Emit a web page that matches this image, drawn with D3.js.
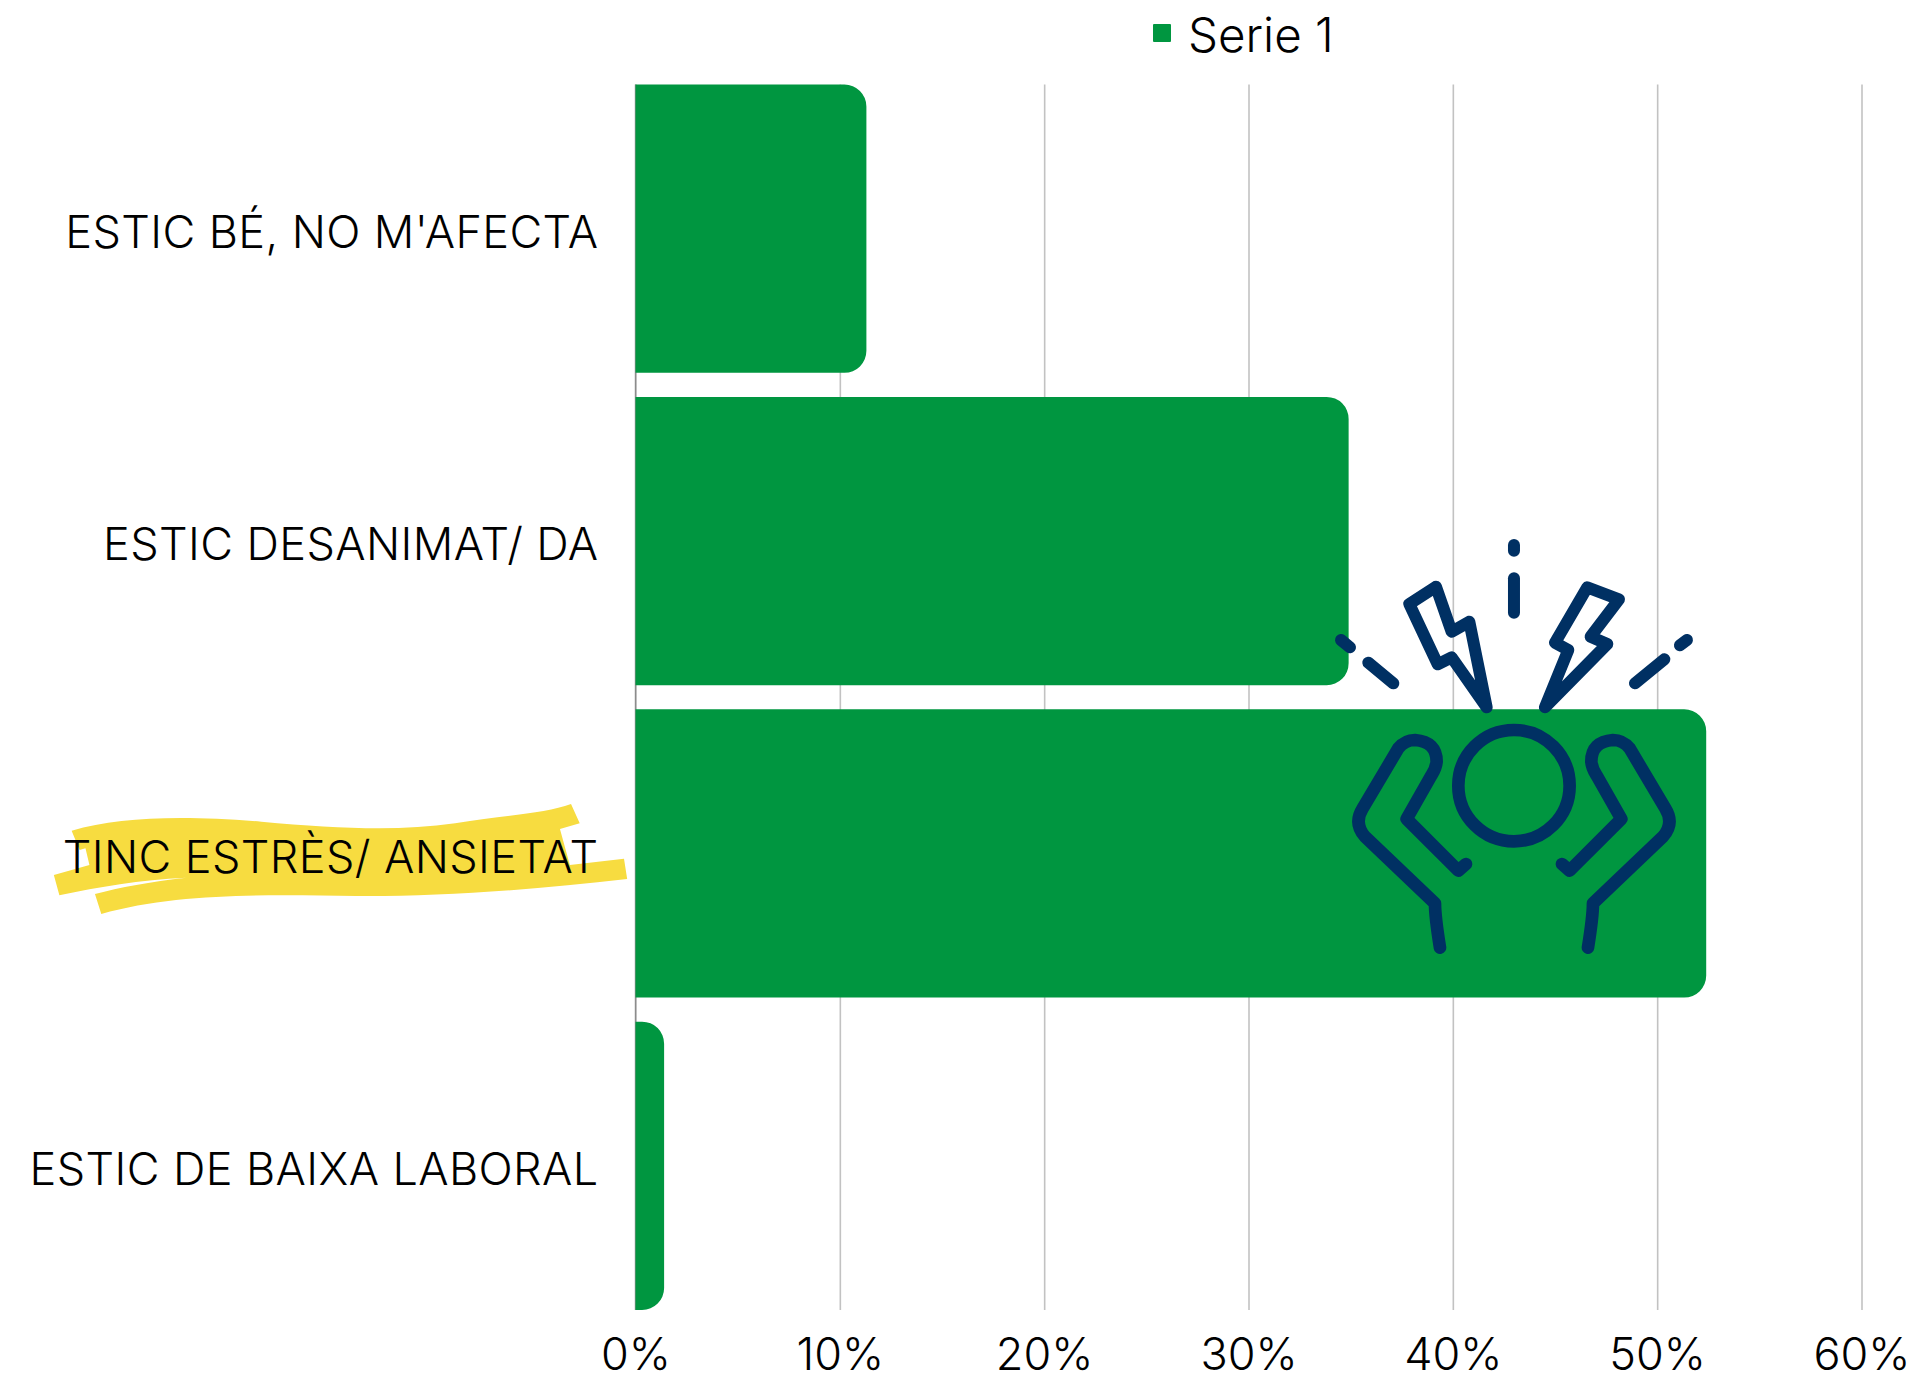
<!DOCTYPE html>
<html lang="ca">
<head>
<meta charset="UTF-8">
<title>Serie 1</title>
<script src="https://d3js.org/d3.v7.min.js"></script>
<style>
    html, body { margin: 0; padding: 0; background: #fff; }
    svg { display: block; }
    text { font-family: Inter, "Open Sans", sans-serif; fill: #000; }
    .axis path { display: none; }
    .grid line { stroke: #c2c2c2; stroke-width: 1.6; }
    .cat text { font-size: 45px; font-weight: 300; letter-spacing: 0.4px; }
    .val text { font-size: 45px; font-weight: 300; }
    .icon * { fill: none; stroke: #003063; stroke-width: 38; stroke-linecap: round; stroke-linejoin: round; }
</style>
</head>
<body>
<svg id="chart" width="1921" height="1381"></svg>
<script>
    // values
    const categories = ["ESTIC BÉ, NO M'AFECTA", "ESTIC DESANIMAT/ DA", "TINC ESTRÈS/ ANSIETAT", "ESTIC DE BAIXA LABORAL"];
    const values = [11.3, 34.9, 52.4, 1.4];
    const xTicks = [0, 10, 20, 30, 40, 50, 60];
    const seriesName = "Serie 1";

    const green = "#009640";
    const svg = d3.select("#chart");
    const margin = { top: 84.5, right: 59.5, bottom: 71, left: 635.5 };
    const width = +svg.attr("width") - margin.left - margin.right;
    const height = +svg.attr("height") - margin.top - margin.bottom;

    const x = d3.scaleLinear().domain([0, 60]).range([0, width]);
    const y = d3.scaleBand().domain(categories).range([0, height]).paddingInner(0.077).paddingOuter(0);

    // yellow marker stroke behind the third label
    svg.append("path")
        .attr("transform", "translate(40,780) scale(0.3954,0.3333)")
        .attr("fill", "#f7dc40")
        .attr("d", "M80 152C200 112 350 105 560 125C750 145 900 155 1050 130C1180 105 1280 100 1343 72L1365 130L1315 147L1340 255L1477 236L1485 297C1250 330 1000 350 800 348C600 345 350 335 155 402L139 342C200 322 280 305 370 293C250 300 150 320 49 346L35 285L125 255L115 205L100 210Z");

    const g = svg.append("g").attr("transform", `translate(${margin.left},${margin.top})`);

    // gridlines and tick labels
    g.append("g")
        .attr("class", "axis grid val")
        .attr("transform", `translate(0,${height})`)
        .call(d3.axisBottom(x).tickValues(xTicks).tickSize(-height).tickPadding(28).tickFormat(d => d + "%"));

    // category axis
    const yAxis = g.append("g")
        .attr("class", "axis cat")
        .call(d3.axisLeft(y).tickSize(0).tickPadding(37));
    yAxis.selectAll("text").attr("y", 5);

    g.append("line")
        .attr("y1", 0).attr("y2", height)
        .attr("stroke", "#8c8c8c").attr("stroke-width", 1.4);

    // bars, only the right corners are rounded
    const r = 22;
    const barPath = d => {
        const x1 = x(d.value), y0 = y(d.cat), y1 = y0 + y.bandwidth();
        const rx = Math.min(r, x1);
        return `M0,${y0}H${x1 - rx}A${rx},${r} 0 0 1 ${x1},${y0 + r}V${y1 - r}A${rx},${r} 0 0 1 ${x1 - rx},${y1}H0Z`;
    };
    g.selectAll(".bar")
        .data(categories.map((cat, i) => ({ cat, value: values[i] })))
        .join("path")
        .attr("class", "bar")
        .attr("fill", green)
        .attr("d", barPath);

    // legend
    const legend = svg.append("g").attr("transform", "translate(1153,24)");
    legend.append("rect").attr("width", 18).attr("height", 18).attr("rx", 1).attr("fill", green);
    legend.append("text").attr("x", 35).attr("y", 27.5).attr("font-size", 47.5).attr("font-weight", 300).text(seriesName);

    // stress icon over the chart, drawn in its own 3x space
    const icon = svg.append("g").attr("class", "icon").attr("transform", "translate(1300,520) scale(0.3333)");
    icon.append("circle").attr("cx", 642).attr("cy", 797).attr("r", 167);
    const iconLines = [
        "M642 75V92", "M642 175V278",
        "M123 360L150 382", "M205 428L280 490",
        "M1161 360L1140 376", "M1093 418L1005 490",
        "M408 200L328 252L413 433L455 412L560 562L508 305L455 335Z",
        "M862 202L957 238L872 350L922 372L735 562L805 390L765 368Z"
    ];
    iconLines.forEach(d => icon.append("path").attr("d", d).style("stroke-width", 36));
    const arm = "M420 1283Q405 1190 405 1150L195 950Q160 910 188 865L295 685Q315 660 345 660Q410 665 410 725Q408 745 395 765L320 897L475 1052L498 1032";
    icon.append("path").attr("d", arm);
    icon.append("path").attr("d", arm).attr("transform", "translate(1284,0) scale(-1,1)");
</script>
</body>
</html>
